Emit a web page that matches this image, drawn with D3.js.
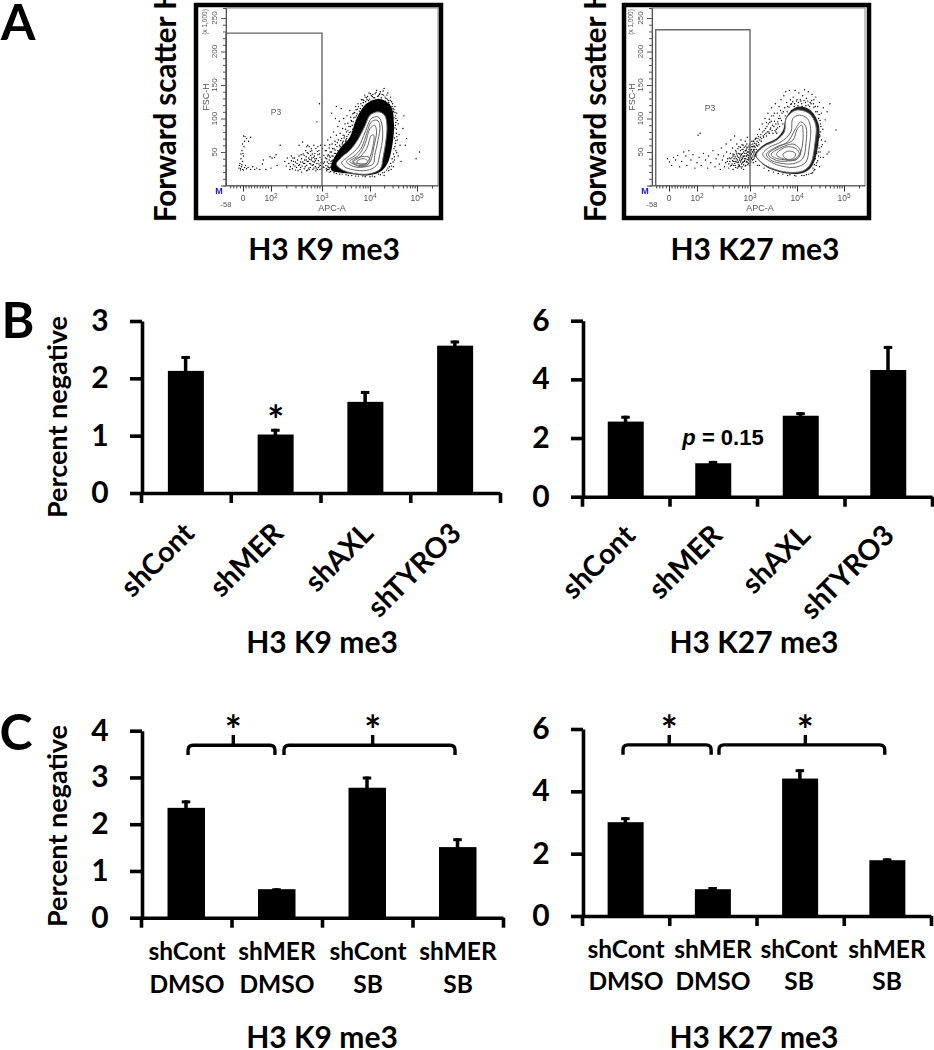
<!DOCTYPE html>
<html><head><meta charset="utf-8">
<script src="https://cdn.jsdelivr.net/npm/d3@7"></script>
<style>
html,body{margin:0;padding:0;background:#fff}
svg{display:block}
text{font-family:Lato,"Open Sans",sans-serif;font-weight:700;fill:#000}
.fl text{font-family:"Liberation Sans",Arial,sans-serif;font-weight:400;fill:#555}
</style></head><body>
<svg id="c" width="934" height="1050"></svg>
<script>
// ---------- bar data ----------
const catsB = ["shCont","shMER","shAXL","shTYRO3"];
const catsC = [["shCont","DMSO"],["shMER","DMSO"],["shCont","SB"],["shMER","SB"]];
const k9B = [2.13,1.02,1.59,2.57],  k9BErr = [2.39,1.12,1.78,2.66];
const k27B = [2.56,1.14,2.76,4.32], k27BErr = [2.76,1.22,2.88,5.14];
const k9C = [2.35,0.61,2.78,1.51],  k9CErr = [2.51,0.63,3.02,1.70];
const k27C = [3.01,0.86,4.41,1.79], k27CErr = [3.17,0.93,4.71,1.85];
const ticksK9B = [0,1,2,3], ticksK27 = [0,2,4,6], ticksK9C = [0,1,2,3,4];
// brackets: [from category pos, to category pos, stem pos]
const bracketsK9C = [[0.52,1.48,1.02],[1.58,3.47,2.56]];
const bracketsK27C = [[0.47,1.48,1.0],[1.57,3.47,2.56]];
// ---------- flow data: [log10 APC, FSC x1000] ----------
const fscTicks = [50,100,150,200,250];
const apcLabels = [[1.45,"0"],[2,"10","2"],[3,"10","3"],[4,"10","4"],[5,"10","5"]];
const apcLowTicks = [1.2,1.26,1.32,1.39,1.45,1.5,1.56,1.61,1.67,1.72,1.78,1.83,1.89,1.94];
const apcHighTicks = [2.3,2.48,2.6,2.7,2.78,2.85,2.9,2.95,3.3,3.48,3.6,3.7,3.78,3.85,3.9,3.95,4.3,4.48,4.6,4.7,4.78,4.85,4.9,4.95,5.3];
const k9Contours = [
 [[3.30,32.5],[3.41,42.5],[3.58,52.5],[3.76,70],[3.90,90],[4.00,105],[4.17,110],[4.31,105],[4.36,90],[4.34,67.5],[4.28,42.5],[4.22,25],[4.00,17.5],[3.72,17.5],[3.48,21.5],[3.34,27.5]],
 [[3.41,34],[3.58,45],[3.76,57.5],[3.90,80],[4.03,100],[4.17,102.5],[4.24,95],[4.27,72.5],[4.21,47.5],[4.14,30],[3.93,22.5],[3.65,23.5],[3.48,27.5]],
 [[3.51,36],[3.69,45],[3.83,57.5],[3.93,77.5],[4.03,95],[4.15,97.5],[4.21,90],[4.17,67.5],[4.10,45],[4.07,32.5],[3.86,27.5],[3.65,28.5]],
 [[3.58,36],[3.76,45],[3.90,62.5],[4.0,85],[4.10,90],[4.14,80],[4.08,57.5],[4.03,40],[3.97,32.5],[3.76,30]],
 [[3.65,35],[3.79,42.5],[3.93,55],[4.03,75],[4.08,75],[4.06,57.5],[4.0,42.5],[3.93,33.5],[3.76,32.5]],
 [[3.64,36],[3.79,42.5],[3.97,42.5],[4.0,37.5],[3.93,30],[3.76,28.5]],
 [[3.72,35],[3.83,40],[3.93,38.5],[3.94,33.5],[3.83,31.5]]
];
const k27Contours = [
 [[3.13,45],[3.28,57.5],[3.56,67.5],[3.73,80],[3.77,100],[3.98,112.5],[4.26,107.5],[4.40,90],[4.38,62.5],[4.29,32.5],[4.12,21.5],[3.77,20],[3.49,25],[3.28,32.5]],
 [[3.27,46.5],[3.42,57.5],[3.66,65],[3.87,80],[3.91,100],[4.05,105],[4.22,100],[4.29,85],[4.26,57.5],[4.19,35],[3.98,27.5],[3.70,28.5],[3.45,35]],
 [[3.35,46.5],[3.56,57.5],[3.80,65],[3.97,85],[4.08,95],[4.19,87.5],[4.19,62.5],[4.12,40],[3.91,32.5],[3.63,33.5],[3.43,38.5]],
 [[3.39,46.5],[3.63,58.5],[3.91,67.5],[4.01,85],[4.10,90],[4.13,77.5],[4.10,55],[4.01,40],[3.80,36.5],[3.56,37.5]],
 [[3.45,46.5],[3.66,56.5],[3.94,61.5],[4.08,50],[3.98,38.5],[3.73,38.5],[3.52,41.5]],
 [[3.56,46.5],[3.77,57.5],[3.98,55],[4.05,46.5],[3.91,38.5],[3.70,40]],
 [[3.70,46.5],[3.84,51.5],[3.97,47.5],[3.91,40],[3.76,40]]
];
const k9Halo = [[3.20,22.5],[3.20,32.5],[3.37,55],[3.58,72.5],[3.72,100],[3.93,122.5],[4.21,129],[4.44,119],[4.51,92.5],[4.48,62.5],[4.37,32.5],[4.21,20],[3.93,15],[3.58,17.5],[3.30,20]];
const k27Halo = [[3.77,102],[3.98,117],[4.26,114],[4.46,92],[4.45,60],[4.33,30],[4.14,19],[3.77,18],[3.49,23],[3.28,31],[3.13,42],[3.1,46],[3.28,60],[3.56,70],[3.70,82]];
const k9Dots = [
[1.38,30],[1.40,25],[1.42,28],[1.44,36],[1.46,44],[1.41,40],[1.43,52],[1.47,58],[1.45,48],[1.39,33],[1.37,26],[1.40,23],[1.44,24],[1.48,27],[1.50,30],[1.52,25],[1.46,23],[1.43,31],[1.41,47],[1.44,62],[1.46,74],[1.49,73],[1.52,70],[1.56,66],[1.60,72],[1.48,66],[1.55,27],[1.60,24],[1.64,28],[1.68,24],[1.72,26],[1.78,24],[1.83,32],[1.90,24],[1.98,43],[2.02,41],[2.07,42],[1.85,38],[2.0,26],[2.12,30],[2.18,60],[2.1,46],
[2.35,33],[2.38,28],[2.40,37],[2.42,25],[2.44,31],[2.46,41],[2.48,35],[2.50,27],[2.52,38],[2.54,30],[2.55,44],[2.57,24],[2.58,35],[2.60,40],[2.61,29],[2.63,47],[2.64,33],[2.65,25],[2.66,38],[2.68,52],[2.69,43],[2.70,30],[2.71,36],[2.72,23],[2.73,48],[2.74,41],[2.75,58],[2.76,33],[2.77,27],[2.78,45],[2.79,38],[2.80,52],[2.81,30],[2.82,24],[2.83,42],[2.84,60],[2.85,35],[2.86,48],[2.87,28],[2.88,55],[2.89,40],[2.90,33],[2.91,24],[2.92,46],[2.93,37],[2.94,52],[2.95,29],[2.96,42],[2.97,60],[2.98,34],[2.99,25],[2.92,58],[2.86,40],[2.78,32],[2.70,22],[2.62,35],[2.56,31],[2.48,23],[2.82,36],[2.88,22],[2.94,32],[2.65,45],[2.74,26],[2.6,20],[2.4,44],[2.3,29],[2.27,36],[2.32,41],[2.9,95],[2.95,122],[2.55,60],[2.62,65],[2.7,58],[2.72,60],
[2.37,24],[2.43,41],[2.47,29],[2.53,22],[2.59,46],[2.67,28],[2.71,49],[2.75,24],[2.79,55],[2.83,31],[2.85,44],[2.89,26],[2.91,51],[2.93,27],[2.95,47],[2.97,30],[2.99,39],[3.01,55],[3.03,33],[3.07,41],[3.09,25],[2.8,41],[2.73,36],[2.66,33],[2.58,27],[2.51,33],[2.44,36],[2.76,39],[2.87,37],[2.84,26],[2.69,38],[2.77,51],[2.96,24],[2.81,47],[3.0,36],[3.04,27],[3.07,52],[3.11,35],[3.13,27],[3.15,38],[3.17,50],[3.19,29],[3.21,44],[3.23,33],[3.12,44],[3.16,61],[3.22,55],[3.26,48],[3.28,61],[3.24,30],
[3.02,28],[3.04,45],[3.05,35],[3.06,60],[3.08,30],[3.09,52],[3.10,40],[3.11,24],[3.12,68],[3.13,46],[3.14,33],[3.15,56],[3.16,26],[3.17,42],[3.18,72],[3.19,36],[3.20,50],[3.21,62],[3.22,28],[3.23,44],[3.24,80],[3.25,55],[3.26,38],[3.27,66],[3.28,48],[3.29,30],[3.30,75],[3.31,58],[3.32,42],[3.33,88],[3.34,68],[3.35,50],[3.36,96],[3.37,60],[3.38,78],[3.40,56],[3.41,70],[3.42,62],[3.43,85],[3.44,66],[3.46,60],[3.47,74],[3.48,92],[3.50,68],[3.51,80],[3.52,104],[3.53,62],[3.55,76],[3.56,88],[3.58,112],[3.60,80],[3.62,96],[3.64,84],[3.66,108],[3.68,90],[3.70,118],[3.72,104],[3.40,115],[3.28,100],[3.2,108],[3.3,118],[3.45,100],
[3.17,27],[3.19,33],[3.14,24],[3.23,38],[3.26,42],[3.29,37],[3.31,47],[3.34,44],[3.33,52],[3.38,58],[3.36,49],[3.41,56],[3.43,64],[3.46,71],[3.44,59],[3.49,66],[3.52,73],[3.54,82],[3.51,70],[3.57,79],[3.59,88],[3.61,97],[3.63,90],[3.66,101],[3.68,109],[3.65,95],[3.71,113],[3.73,107],[3.76,118],[3.78,111],[3.81,122],[3.84,119],[3.87,127],[3.91,125],[3.95,133],[3.99,129],[4.03,134],[4.07,131],[4.11,137],[4.16,133],[4.2,136],[4.24,131],[4.29,135],[4.33,126],[4.37,129],[4.41,121],[4.46,125],[4.49,115],[4.53,109],[4.51,101],[4.55,94],[4.53,86],[4.56,78],[4.52,71],[4.54,63],[4.51,55],[4.5,47],[4.47,40],[4.44,33],[4.41,28],[4.35,23],[4.27,19],[4.18,17],[4.05,14],[3.85,14],[3.62,15],[3.42,17],[3.25,19],
[3.75,122],[3.80,115],[3.82,128],[3.86,124],[3.90,132],[3.94,128],[3.98,138],[4.02,126],[4.06,136],[4.10,131],[4.14,142],[4.18,134],[4.22,140],[4.26,136],[4.30,145],[4.34,130],[4.38,138],[4.40,124],[4.44,132],[4.48,122],[4.50,110],[4.53,118],[4.55,100],[4.57,108],[4.60,92],[4.56,84],[4.62,76],[4.58,68],[4.64,60],[4.55,52],[4.60,44],[4.66,36],[4.52,38],[4.50,28],[4.45,24],[4.40,22],[4.72,104],[4.70,85],[4.75,60],[4.78,70],[4.98,40],[5.05,50],[4.3,15],[4.1,13],[3.9,13],[3.7,14],[3.5,16],[3.3,18],[3.15,20],[3.1,22],
[3.85,128],[3.89,135],[3.93,131],[3.97,127],[4.01,137],[4.05,133],[4.09,126],[4.13,139],[4.17,129],[4.21,137],[4.25,127],[4.28,141],[4.32,132],[4.36,135],[4.39,127],[4.43,127],[4.47,118],[4.51,113],[4.54,104],[4.58,97],[4.54,90],[4.57,73],[4.55,67],[4.53,58],[4.57,49],[4.52,43],[4.49,35],[4.46,29],[4.38,26],[4.31,20],[4.22,16],[4.0,13],[3.76,14],[3.55,15],[3.37,17],[3.18,21],[3.12,29],[3.16,44],[3.21,37],[3.27,53],[3.32,64],[3.39,67],[3.44,75],[3.49,84],[3.54,93],[3.6,102],[3.64,107],[3.69,102],[3.74,114]
];
const k27Dots = [
[1.42,40],[1.46,35],[1.50,30],[1.54,42],[1.58,38],[1.62,45],[1.66,28],[1.70,36],[1.74,50],[1.78,44],[1.80,30],[1.84,52],[1.88,38],[1.92,46],[1.96,26],[2.00,34],[2.04,42],[2.06,78],[2.02,75],[2.08,30],[2.12,48],[2.16,38],[2.20,26],[2.22,44],[2.26,34],[2.30,52],[2.34,28],[2.36,40],[2.40,46],[2.42,32],[2.44,24],[2.46,56],[2.48,38],[2.50,44],[2.52,28],[2.54,34],[2.55,62],[2.56,50],[2.58,40],[2.60,26],[2.62,36],[2.63,48],[2.64,68],[2.65,30],[2.66,42],[2.67,56],[2.68,24],[2.69,36],[2.70,46],[2.71,74],[2.72,30],[2.73,52],[2.74,40],[2.75,62],[2.76,26],[2.77,34],[2.78,48],[2.79,58],[2.80,38],[2.81,28],[2.82,44],[2.83,68],[2.84,32],[2.85,54],[2.86,40],[2.87,60],[2.88,24],[2.89,36],[2.90,48],[2.91,66],[2.92,30],[2.93,44],[2.94,56],[2.95,72],[2.96,34],[2.97,50],[2.98,40],[2.99,62],[3.00,30],
[2.78,42],[2.80,30],[2.82,52],[2.84,46],[2.86,34],[2.88,50],[2.90,40],[2.92,52],[2.94,36],[2.96,46],[2.98,54],[3.0,44],[3.0,50],[2.72,36],[2.70,40],[2.68,44],[2.66,32],[2.64,40],[2.74,50],[2.76,44],[2.83,37],[2.87,44],[2.93,48],[2.97,42],[3.02,52],[3.03,40],[3.06,50],[3.08,58],[3.1,54],[2.6,32],[2.57,36],[2.69,30],[2.78,28],[2.85,28],
[2.61,41],[2.63,29],[2.67,37],[2.68,47],[2.71,33],[2.72,43],[2.73,27],[2.74,35],[2.75,47],[2.76,38],[2.77,55],[2.78,35],[2.79,31],[2.8,47],[2.81,41],[2.82,35],[2.82,57],[2.83,47],[2.84,39],[2.84,26],[2.85,42],[2.85,61],[2.86,48],[2.87,35],[2.87,54],[2.88,43],[2.88,31],[2.89,57],[2.9,37],[2.9,44],[2.91,52],[2.91,29],[2.92,40],[2.92,59],[2.93,35],[2.93,53],[2.94,44],[2.94,62],[2.95,39],[2.95,50],[2.96,31],[2.96,57],[2.97,38],[2.97,45],[2.98,59],[2.98,33],[2.99,48],[2.99,53],[3.0,38],[3.0,57],[3.01,43],[3.01,49],[3.02,35],[3.02,61],[3.03,47],[3.03,54],[3.04,42],[3.04,66],[3.05,50],[3.05,58],[3.06,44],[3.06,62],[3.07,39],[3.07,54],[3.08,47],[3.08,66],[3.09,59],[3.09,41],[3.1,50],[3.1,63],[3.11,57],[3.11,69],[3.12,46],[3.13,62],[3.13,71],[3.14,54],[3.15,66],[3.16,59],[3.17,70],[3.18,73],[3.19,61],[3.21,68],[3.23,76],[3.25,70],[3.27,80],[3.29,72],[3.31,76],[3.33,85],[3.35,74],[3.37,80],[3.39,92],[3.41,78],[3.43,84],[3.45,96],[3.47,82],[3.49,78],[3.51,88],[3.53,82],[3.55,92],[3.57,78],[3.59,86],[3.61,100],[3.63,88],[3.65,112],
[3.02,46],[3.04,58],[3.05,38],[3.07,66],[3.08,52],[3.10,44],[3.12,70],[3.14,60],[3.16,76],[3.18,64],[3.20,84],[3.22,72],[3.24,66],[3.26,92],[3.28,74],[3.30,82],[3.32,100],[3.34,78],[3.36,88],[3.38,108],[3.40,80],[3.42,94],[3.44,86],[3.46,116],[3.48,90],[3.50,104],[3.52,96],[3.54,122],[3.56,84],[3.58,108],[3.60,92],[3.62,118],[3.64,100],[3.66,128],[3.68,108],[3.70,92],[3.72,134],[3.74,116],[3.76,140],[3.78,124],[3.80,118],[3.84,142],[3.86,128],[3.88,122],
[4.45,88],[4.47,72],[4.44,60],[4.42,48],[4.46,100],[4.4,110],[4.36,117],[4.3,122],[4.24,120],[4.18,124],[4.1,122],[4.02,119],[3.94,118],[3.88,112],[3.82,104],[4.5,80],[4.52,68],[4.47,56],[4.5,42],[4.39,40],[4.41,30],[4.34,26],[4.33,19],[4.25,17],[4.15,15],[3.98,14],[3.85,16],[3.7,17],[3.6,18],[3.5,20],[3.4,22],[3.3,26],[3.2,30],[3.12,36],[3.07,34],[3.16,30],
[3.92,132],[3.96,142],[4.0,128],[4.04,138],[4.08,126],[4.12,134],[4.16,143],[4.20,130],[4.24,140],[4.28,124],[4.32,136],[4.36,128],[4.40,132],[4.44,118],[4.48,124],[4.52,108],[4.56,116],[4.60,98],[4.64,110],[4.5,92],[4.55,84],[4.48,76],[4.6,66],[4.52,58],[4.45,50],[4.56,42],[4.42,34],[4.48,28],[4.38,24],[4.30,18],[4.2,16],[4.1,15],[3.95,15],[3.8,15],[4.7,122],[4.83,83],[4.68,50],[4.64,47],
[3.79,110],[3.83,117],[3.87,121],[3.91,125],[3.95,122],[3.99,126],[4.03,124],[4.07,128],[4.11,118],[4.15,127],[4.19,119],[4.23,126],[4.27,118],[4.31,127],[4.35,122],[4.39,118],[4.43,110],[4.47,106],[4.49,97],[4.51,88],[4.49,74],[4.54,61],[4.49,50],[4.46,44],[4.44,37],[4.37,31],[4.36,22],[3.55,80],[3.59,95],[3.63,104],[3.67,97],[3.71,110],[3.75,104],[3.52,108],[3.46,104],[3.41,99],[3.35,94]
];
// ---------- drawing ----------
const svg = d3.select("#c");
const defs = svg.append("defs");
defs.append("filter").attr("id","soft").attr("x",-0.02).attr("y",-0.02).attr("width",1.04).attr("height",1.04).append("feGaussianBlur").attr("stdDeviation",0.35);

function label(x,y,t,size,rot){
  const e = svg.append("text").attr("font-size",size).attr("text-anchor","middle").text(t);
  e.attr("transform",`translate(${x},${y})`+(rot?` rotate(${rot})`:""));
  return e;
}
[["A",18,40],["B",18,338],["C",16,750]].forEach(d=>label(d[1],d[2],d[0],50));
[[324,260],[755,260],[322,653],[754,653],[322,1048],[754,1048]].forEach((p,i)=>label(p[0],p[1],i%2?"H3 K27 me3":"H3 K9 me3",30));

function flow(o){
  const x = d3.scaleLinear().domain([1.117,1.45,2,3,4,5,5.42]).range(o.xr);
  const y = d3.scaleLinear().domain([0,265]).range([185.5,8]);
  const g = svg.append("g").attr("class","fl");
  const soft = g.append("g").attr("filter","url(#soft)");
  soft.append("rect").attr("x",x(1.117)).attr("y",y(265)).attr("width",x(5.42)-x(1.117)).attr("height",y(0)-y(265))
     .attr("fill","none").attr("stroke","#888").attr("stroke-width",1);
  const line = d3.line().x(d=>x(d[0])).y(d=>y(d[1])).curve(d3.curveCatmullRomClosed.alpha(0.5));
  soft.append("path").attr("d",line(o.halo)).attr("fill",o.haloFill);
  soft.selectAll("circle.d").data(o.dots).join("circle").attr("class","d")
     .attr("cx",d=>x(d[0])).attr("cy",d=>y(d[1])).attr("r",0.7).attr("fill","#000");
  soft.selectAll("path.c").data(o.contours).join("path").attr("class","c")
     .attr("d",line).attr("fill",(d,i)=>i?"none":"#fff").attr("stroke","#666").attr("stroke-width",1);
  // gate
  soft.append("path").attr("d",d3.line().x(d=>x(d[0])).y(d=>y(d[1]))([[o.gateL,0],[o.gateL,o.gateT],[3,o.gateT],[3,0]]))
     .attr("fill","none").attr("stroke","#666").attr("stroke-width",1.4);
  // axes
  const ay = d3.axisLeft(y).tickValues(d3.range(0,260,10)).tickSize(3).tickFormat("");
  const ayG = soft.append("g").attr("transform",`translate(${x(1.117)},0)`).call(ay);
  ayG.selectAll(".tick line").attr("stroke","#555").attr("x2",d=>d%50===0?-5:-3);
  ayG.select(".domain").attr("stroke","#555");
  const ticksX = apcLowTicks.concat(apcHighTicks);
  const ax = d3.axisBottom(x).tickValues(ticksX).tickSize(3).tickFormat("").tickSizeOuter(0);
  const axG = soft.append("g").attr("transform",`translate(0,${y(0)})`).call(ax);
  axG.select(".domain").attr("stroke","#555");
  axG.selectAll(".tick line").attr("stroke","#444");
  const ax2 = d3.axisBottom(x).tickValues(apcLabels.map(d=>d[0])).tickSize(6).tickFormat("");
  const ax2G = soft.append("g").attr("transform",`translate(0,${y(0)})`).call(ax2);
  ax2G.select(".domain").remove(); ax2G.selectAll(".tick line").attr("stroke","#333");
  fscTicks.forEach(v=>{
    soft.append("text").attr("font-size",8).attr("text-anchor","middle")
      .attr("transform",`translate(${x(1.117)-9},${y(v)}) rotate(-90)`).text(v);
  });
  apcLabels.forEach(d=>{
    const t = soft.append("text").attr("font-size",8.5).attr("text-anchor","middle").attr("x",x(d[0])).attr("y",201).text(d[1]);
    if(d[2]) t.append("tspan").attr("dy",-3).attr("font-size",6.5).text(d[2]);
  });
  soft.append("text").attr("font-size",7.5).attr("text-anchor","middle").attr("x",x(1.117)).attr("y",207).text("-58");
  soft.append("text").attr("font-size",9).attr("text-anchor","middle").attr("x",x(3)+10).attr("y",211).text("APC-A");
  soft.append("text").attr("font-size",9).attr("text-anchor","middle").attr("transform",`translate(${x(1.117)-17},97) rotate(-90)`).text("FSC-H");
  soft.append("text").attr("font-size",6.5).attr("text-anchor","middle").attr("transform",`translate(${x(1.117)-19},22) rotate(-90)`).text("(x 1,000)");
  soft.append("text").attr("font-size",8.5).attr("text-anchor","middle").attr("x",o.p3[0]).attr("y",o.p3[1]).text("P3");
  soft.append("text").attr("font-size",9).attr("text-anchor","middle").attr("x",x(1.117)-7).attr("y",194).style("fill","#1a1aff").style("font-weight",700).text("M");
  // frame
  g.append("rect").attr("x",o.frame[0]).attr("y",5).attr("width",o.frame[1]-o.frame[0]).attr("height",213)
    .attr("fill","none").attr("stroke","#000").attr("stroke-width",4.5);
  svg.append("text").attr("font-size",29.5).attr("text-anchor","start")
    .attr("transform",`translate(${o.lab},222) rotate(-90)`).text("Forward scatter H");
}
flow({xr:[226,243,271,322,370,417,438],contours:k9Contours,halo:k9Halo,haloFill:"#000",dots:k9Dots,gateL:1.117,gateT:227.5,p3:[276,115],frame:[196,441],lab:176});
flow({xr:[652,669,697,750,797,844,865],contours:k27Contours,halo:k27Halo,haloFill:"#222",dots:k27Dots,gateL:1.19,gateT:232.5,p3:[710,111],frame:[624,869],lab:606});

function bars(o){
  const x = d3.scaleLinear().domain([0,4]).range(o.xr);
  const y = d3.scaleLinear().domain([0,o.max]).range(o.yr);
  const g = svg.append("g");
  const bw = o.bw;
  g.selectAll("rect.err").data(o.err).join("rect").attr("class","err")
    .attr("x",(d,i)=>x(i+0.5)-2).attr("width",3.5).attr("y",d=>y(d)).attr("height",(d,i)=>y(o.vals[i])-y(d)+1);
  g.selectAll("rect.cap").data(o.err).join("rect").attr("class","cap")
    .attr("x",(d,i)=>x(i+0.5)-4.5).attr("width",8.5).attr("y",d=>y(d)).attr("height",3);
  g.selectAll("rect.bar").data(o.vals).join("rect").attr("class","bar")
    .attr("x",(d,i)=>x(i+0.5)-bw/2).attr("width",bw).attr("y",d=>y(d)).attr("height",d=>y(0)-y(d));
  const ya = g.append("g").attr("transform",`translate(${o.xr[0]+1},0)`)
    .call(d3.axisLeft(y).tickValues(o.ticks).tickSize(12).tickSizeOuter(0).tickFormat(""));
  ya.selectAll("line,path").attr("stroke","#000").attr("stroke-width",3.6);
  const xa = g.append("g").attr("transform",`translate(0,${y(0)})`)
    .call(d3.axisBottom(x).tickValues(d3.range(0,5)).tickSize(10).tickSizeOuter(0).tickFormat(""));
  xa.selectAll("line,path").attr("stroke","#000").attr("stroke-width",3.6);
  o.ticks.forEach(v=>{
    g.append("text").attr("font-size",30).attr("text-anchor","middle").attr("x",o.xr[0]-41).attr("y",y(v)+10).text(v);
  });
  if(o.ylab) label(o.ylab,o.ylabStart,"Percent negative",27,-90).attr("text-anchor","start");
  return {x,y,g};
}
function rotLabels(r,ends,baseY){
  catsB.forEach((c,i)=>{
    r.g.append("text").attr("font-size",28.5).attr("text-anchor","end")
      .attr("transform",`translate(${ends[i]},${baseY}) rotate(-45)`).text(c);
  });
}
function star(g,x,y,size){ g.append("text").attr("font-size",size||40).attr("text-anchor","middle").attr("x",x).attr("y",y).text("*"); }

const bl = bars({xr:[141,500],max:3,yr:[493,321],vals:k9B,err:k9BErr,ticks:ticksK9B,bw:36,ylab:67,ylabStart:518});
rotLabels(bl,[196,285,375,463],535);
star(bl.g,bl.x(1.5),435);
const br = bars({xr:[582,932],max:6,yr:[496.7,320.7],vals:k27B,err:k27BErr,ticks:ticksK27,bw:36});
rotLabels(br,[637,724,812,896],537);
const pt = br.g.append("text").attr("font-size",22).attr("text-anchor","middle").attr("x",723).attr("y",445).style("font-family","Liberation Sans");
pt.append("tspan").style("font-style","italic").text("p");
pt.append("tspan").text(" = 0.15");

function brackets(r,list,yTop,yBot,yStem){
  const y=r.y,x=r.x;
  list.forEach(b=>{
    const rr=5, xa=x(b[0]), xb=x(b[1]), xs=x(b[2]), t=y(yTop), bo=y(yBot), st=y(yStem);
    const p=d3.path();
    p.moveTo(xa,bo); p.lineTo(xa,t+rr); p.quadraticCurveTo(xa,t,xa+rr,t); p.lineTo(xb-rr,t); p.quadraticCurveTo(xb,t,xb,t+rr); p.lineTo(xb,bo);
    p.moveTo(xs,t); p.lineTo(xs,st);
    r.g.append("path").attr("d",p.toString()).attr("fill","none").attr("stroke","#000").attr("stroke-width",3.4);
    star(r.g,xs,745,40);
  });
}
function catLabels(r,centers,y1,y2){
  catsC.forEach((c,i)=>{
    r.g.append("text").attr("font-size",24.5).attr("text-anchor","middle").attr("x",centers[i]).attr("y",y1).text(c[0]);
    r.g.append("text").attr("font-size",24.5).attr("text-anchor","middle").attr("x",centers[i]).attr("y",y2).text(c[1]);
  });
}
const cl = bars({xr:[141,503],max:4,yr:[917.7,730.7],vals:k9C,err:k9CErr,ticks:ticksK9C,bw:37.5,ylab:67,ylabStart:927});
catLabels(cl,[187,277,368,458],960,993);
brackets(cl,bracketsK9C,3.69,3.48,3.91);
const cr = bars({xr:[582,931],max:6,yr:[916,729],vals:k27C,err:k27CErr,ticks:ticksK27,bw:36});
catLabels(cr,[626,713,799,887],958,990);
brackets(cr,bracketsK27C,5.49,5.17,5.81);
</script></body></html>
